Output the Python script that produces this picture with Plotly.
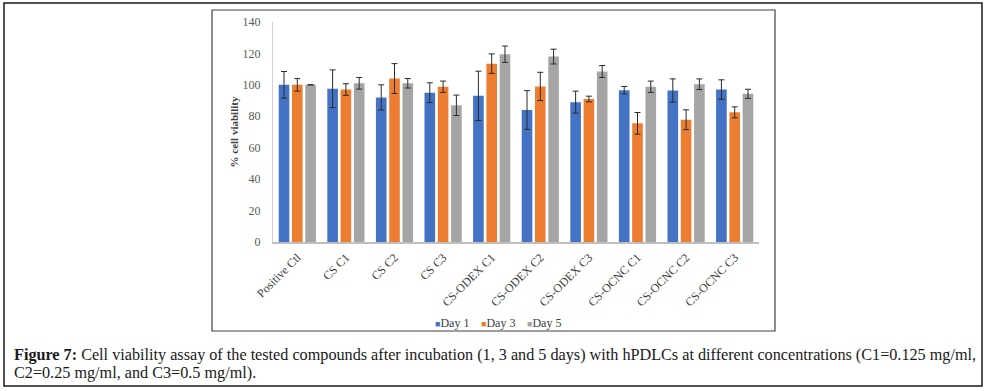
import plotly.graph_objects as go

categories = ["Positive Ctl", "CS C1", "CS C2", "CS C3", "CS-ODEX C1", "CS-ODEX C2",
              "CS-ODEX C3", "CS-OCNC C1", "CS-OCNC C2", "CS-OCNC C3"]
day1 = [100, 97.5, 92, 95, 93, 84, 89, 96.6, 96.4, 97]
day1_err = [8.5, 12, 8, 6.3, 15.7, 12.3, 7, 2.4, 7.4, 6.2]
day3 = [100, 97, 104, 98.8, 113.5, 99, 91, 75.5, 77.8, 82.5]
day3_err = [4, 3.7, 9.5, 3.6, 6.2, 9, 1.8, 6.9, 6.3, 3.5]
day5 = [100, 101, 101, 87, 119.5, 118, 108.5, 98.8, 100.4, 94.3]
day5_err = [0, 3.7, 3, 6.5, 5.2, 4.7, 3.8, 3.6, 3.4, 2.9]
series_names = ["Day 1", "Day 3", "Day 5"]
colors = ["#4472C4", "#ED7D31", "#A5A5A5"]
y_ticks = [0, 20, 40, 60, 80, 100, 120, 140]

W, H = 987, 391
def px(x): return x / W
def py(y): return 1 - y / H

fig = go.Figure()
for name, vals, errs, col in zip(series_names, [day1, day3, day5],
                                 [day1_err, day3_err, day5_err], colors):
    fig.add_trace(go.Bar(
        x=categories, y=vals, name=name,
        marker=dict(color=col, line=dict(width=0)),
        error_y=dict(type="data", array=errs, visible=True,
                     color="#2b2b2b", thickness=1, width=3),
        showlegend=False,
    ))

serif = "Liberation Serif, Times New Roman, serif"

fig.update_layout(
    width=W, height=H,
    margin=dict(l=0, r=0, t=0, b=0, autoexpand=False),
    paper_bgcolor="white", plot_bgcolor="white",
    barmode="group", bargap=0.18, bargroupgap=0.2,
    font=dict(family=serif, color="#404040"),
    xaxis=dict(domain=[px(273), px(759)], showgrid=False, showline=True,
               linecolor="#BFBFBF", linewidth=1.5, ticks="", tickangle=-45,
               automargin=False, ticklabelstandoff=2,
               tickfont=dict(size=12, color="#404040", family=serif)),
    yaxis=dict(domain=[py(242), py(22)], range=[0, 140], tickvals=y_ticks,
               showgrid=False, showline=True, linecolor="#D0D0D0", linewidth=1,
               ticks="", zeroline=False, automargin=False, ticklabelstandoff=9,
               tickfont=dict(size=12, color="#595959", family=serif),
               title=dict(text="<b>% cell viability</b>", standoff=1,
                          font=dict(size=11, color="#404040", family=serif))),
    showlegend=False,
)

# compact legend (Excel style)
leg_x = [433, 479, 525]
for name, col, lx in zip(series_names, colors, leg_x):
    fig.add_annotation(xref="paper", yref="paper", x=px(lx), y=py(323),
                       xanchor="left", yanchor="middle", showarrow=False,
                       font=dict(family=serif, size=12, color="#404040"),
                       text=f'<span style="color:{col};font-size:9px">■</span>{name}')

# frames
fig.add_shape(type="rect", xref="paper", yref="paper",
              x0=px(4), x1=px(982), y0=py(386), y1=py(3),
              line=dict(color="#1a1a1a", width=1.5), layer="below")
fig.add_shape(type="rect", xref="paper", yref="paper",
              x0=px(212), x1=px(775), y0=py(331), y1=py(10),
              line=dict(color="#404040", width=1.2), layer="below")

cap_font = dict(family=serif, size=16.2, color="#1a1a1a")
fig.add_annotation(xref="paper", yref="paper", x=px(12), y=py(355), xanchor="left",
                   yanchor="middle", showarrow=False, font=cap_font,
                   text="<b>Figure 7:</b> Cell viability assay of the tested compounds after incubation (1, 3 and 5 days) with hPDLCs at different concentrations (C1=0.125 mg/ml,")
fig.add_annotation(xref="paper", yref="paper", x=px(12), y=py(373), xanchor="left",
                   yanchor="middle", showarrow=False, font=cap_font,
                   text="C2=0.25 mg/ml, and C3=0.5 mg/ml).")

fig.write_html("out.html", config={"displayModeBar": False},
               post_script="document.body.style.margin='0';document.body.style.overflow='hidden';")
